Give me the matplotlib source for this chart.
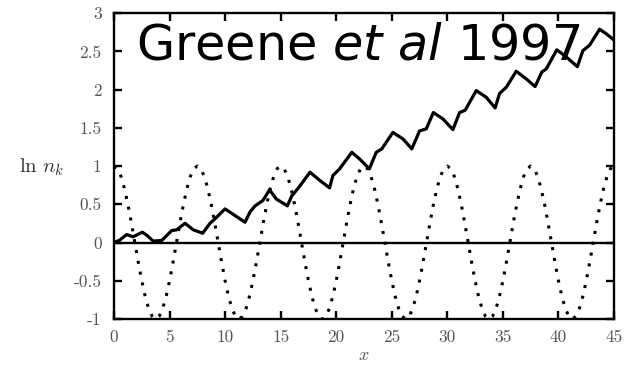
import numpy as np
import matplotlib
matplotlib.use("Agg")
import matplotlib.pyplot as plt

x_nk = [0, 0.5, 1.14, 1.71, 2.55, 3.0, 3.51, 4.29, 5.19, 5.64, 6.39, 7.14,
        7.98, 8.64, 9.09, 9.99, 10.89, 11.79, 12.24, 12.7, 13.4, 14.0, 14.6,
        15.6, 16.0, 16.6, 17.64, 18.54, 19.4, 19.7, 20.3, 21.4, 22.1, 22.98,
        23.6, 24.1, 25.1, 26.0, 26.8, 27.5, 28.1, 28.74, 29.6, 30.5, 31.1,
        31.6, 32.6, 33.5, 34.3, 34.7, 35.3, 36.2, 37.1, 37.9, 38.5, 38.9,
        39.85, 40.6, 41.7, 42.2, 42.8, 43.7, 44.3, 44.9]
ln_nk = [0, 0.03, 0.105, 0.075, 0.135, 0.09, 0.02, 0.026, 0.157, 0.166, 0.252,
         0.166, 0.122, 0.252, 0.31, 0.44, 0.353, 0.265, 0.40, 0.48, 0.55, 0.69,
         0.57, 0.48, 0.61, 0.715, 0.92, 0.81, 0.715, 0.876, 0.963, 1.18, 1.094,
         0.963, 1.18, 1.225, 1.44, 1.356, 1.225, 1.46, 1.486, 1.70, 1.617,
         1.477, 1.70, 1.73, 1.987, 1.90, 1.76, 1.95, 2.03, 2.24, 2.14, 2.04,
         2.23, 2.27, 2.52, 2.44, 2.30, 2.51, 2.58, 2.79, 2.73, 2.66]

# oscillating background field: one cycle sampled every 0.3125 in x
pump_step = 0.3125
pump_cycle = [1.0, 0.966, 0.866, 0.707, 0.5, 0.259, 0.0, -0.259, -0.5, -0.707,
              -0.866, -0.966, -1.0, -0.966, -0.866, -0.707, -0.5, -0.259, 0.0,
              0.259, 0.5, 0.707, 0.866, 0.966]
n_cycles = 6

x_ticks = [0, 5, 10, 15, 20, 25, 30, 35, 40, 45]
y_ticks = [-1, -0.5, 0, 0.5, 1, 1.5, 2, 2.5, 3]
y_ticklabels = ["-1", "-0.5", "0", "0.5", "1", "1.5", "2", "2.5", "3"]

pump = np.append(np.tile(pump_cycle, n_cycles), pump_cycle[0])
x_pump = np.arange(len(pump)) * pump_step

fig = plt.figure(figsize=(6.24, 3.65), dpi=100)
ax = fig.add_axes([0.1827, 0.126, 0.8013, 0.838])

ax.axhline(0, color="black", lw=1.7, zorder=1)
ax.plot(x_pump, pump, color="black", lw=2.2, linestyle=(0, (1, 2.6)),
        dash_capstyle="butt", zorder=2)
ax.plot(x_nk, ln_nk, color="black", lw=2.3, solid_joinstyle="round", zorder=3)

ax.set_xlim(0, 45)
ax.set_ylim(-1, 3)
ax.set_xticks(x_ticks)
ax.set_xticklabels([str(t) for t in x_ticks], family="cmr10", fontsize=12.5,
                   color="#555555")
ax.set_yticks(y_ticks)
ax.set_yticklabels(y_ticklabels, family="cmr10", fontsize=12.5,
                   color="#555555")
ax.tick_params(axis="x", direction="in", length=6, width=1.7, top=True,
               pad=8)
ax.tick_params(axis="y", direction="in", length=6, width=1.7, right=True,
               pad=9)
for side in ax.spines.values():
    side.set_linewidth(1.7)

fig.text(0.066, 0.542, r"$\ln\,n_k$", fontsize=15, color="#333333",
         ha="center", va="center", math_fontfamily="cm")
fig.text(0.583, 0.002, r"$x$", fontsize=13, color="#555555",
         ha="center", va="bottom", math_fontfamily="cm")

fig.text(0.218, 0.836, r"Greene $\mathit{et\ al}$ 1997", fontsize=35.5,
         family="DejaVu Sans", math_fontfamily="dejavusans",
         ha="left", va="baseline")

fig.savefig("out.png", dpi=100)
